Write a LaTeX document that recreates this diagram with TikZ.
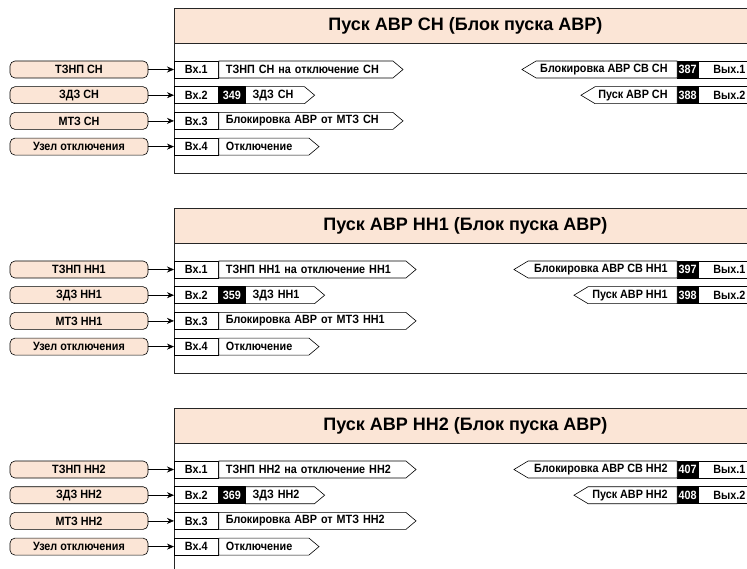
\documentclass[tikz,border=0pt]{standalone}
\usepackage{fontspec}
\setmainfont{Liberation Sans}[FakeStretch=0.9]
\newfontfamily\headfont{Liberation Sans}[FakeStretch=1.0]
\usetikzlibrary{arrows.meta,shapes.symbols}

\definecolor{peach}{HTML}{FBE5D6}
% output text, right aligned in a box of given width
\newcommand\outlbl[2]{\makebox[#1][r]{#2\kern7pt}}

\begin{document}
\begin{tikzpicture}[x=1pt,y=-1pt,
  every node/.style={font=\bfseries\fontsize{12}{13}\selectfont,inner sep=0pt},
  link/.style={draw=black,line width=.7pt,-{Stealth[length=7pt,width=6pt]}},
  block/.style={draw=black!85,line width=.9pt,fill=white},
  band/.style={draw=black!85,line width=.9pt,fill=peach},
  heading/.style={font=\headfont\bfseries\fontsize{18}{20}\selectfont},
  source/.style={draw=black,line width=.6pt,fill=peach,rounded corners=5pt,
    minimum width=138,minimum height=17},
  port/.style={draw=black,line width=.6pt,fill=white,minimum width=44,
    minimum height=17,anchor=west},
  num/.style={draw=black,line width=.6pt,fill=black,text=white,minimum width=26,
    minimum height=17,anchor=west},
  onum/.style={num,minimum width=20},
  sigin/.style={draw=black,line width=.6pt,fill=white,shape=signal,signal to=east,
    signal pointer angle=80,minimum height=17,anchor=west,text width=#1,
    align=left,inner xsep=7pt},
  sigout/.style={draw=black,line width=.6pt,fill=white,shape=signal,signal to=west,
    signal pointer angle=62,minimum height=17,anchor=east,inner xsep=2.5pt}]

\clip (0,0) rectangle (747,569);

% ---- block A
\node[block,minimum width=582,minimum height=165,anchor=north west] (blockA) at (174,8) {};
\node[band,minimum width=582,minimum height=35,anchor=north west] (bandA) at (174,8) {};
\node[heading] (titleA) at (bandA.center) {Пуск АВР СН (Блок пуска АВР)};

\node[source] (srcA1) at (79,69.5) {ТЗНП СН};
\node[source] (srcA2) at (79,95.2) {ЗДЗ СН};
\node[source] (srcA3) at (79,120.9) {МТЗ СН};
\node[source] (srcA4) at (79,146.6) {Узел отключения};

\node[port] (portA1) at (174,69.5) {Вх.1};
\node[port] (portA2) at (174,95.2) {Вх.2};
\node[port] (portA3) at (174,120.9) {Вх.3};
\node[port] (portA4) at (174,146.6) {Вх.4};

\node[sigin=160pt] (sigA1) at (portA1.east) {ТЗНП СН на отключение СН};
\node[num] (numA2) at (portA2.east) {349};
\node[sigin=45pt] (sigA2) at (numA2.east) {ЗДЗ СН};
\node[sigin=160pt] (sigA3) at (portA3.east) {Блокировка АВР от МТЗ СН};
\node[sigin=76pt] (sigA4) at (portA4.east) {Отключение};

\node[port,minimum width=62] (oportA1) at (698,69.5) {Вых.1};
\node[port,minimum width=62] (oportA2) at (698,95.2) {Вых.2};
\node[onum,anchor=east] (onumA1) at (oportA1.west) {387};
\node[onum,anchor=east] (onumA2) at (oportA2.west) {388};
\node[sigout] (outA1) at (onumA1.west) {\outlbl{136pt}{Блокировка АВР СВ СН}};
\node[sigout] (outA2) at (onumA2.west) {\outlbl{77pt}{Пуск АВР СН}};

\draw[link] (srcA1) -- (portA1);
\draw[link] (srcA2) -- (portA2);
\draw[link] (srcA3) -- (portA3);
\draw[link] (srcA4) -- (portA4);

% ---- block B
\node[block,minimum width=582,minimum height=165,anchor=north west] (blockB) at (174,208) {};
\node[band,minimum width=582,minimum height=35,anchor=north west] (bandB) at (174,208) {};
\node[heading] (titleB) at (bandB.center) {Пуск АВР НН1 (Блок пуска АВР)};

\node[source] (srcB1) at (79,269.5) {ТЗНП НН1};
\node[source] (srcB2) at (79,295.2) {ЗДЗ НН1};
\node[source] (srcB3) at (79,320.9) {МТЗ НН1};
\node[source] (srcB4) at (79,346.6) {Узел отключения};

\node[port] (portB1) at (174,269.5) {Вх.1};
\node[port] (portB2) at (174,295.2) {Вх.2};
\node[port] (portB3) at (174,320.9) {Вх.3};
\node[port] (portB4) at (174,346.6) {Вх.4};

\node[sigin=173pt] (sigB1) at (portB1.east) {ТЗНП НН1 на отключение НН1};
\node[num] (numB2) at (portB2.east) {359};
\node[sigin=55pt] (sigB2) at (numB2.east) {ЗДЗ НН1};
\node[sigin=173pt] (sigB3) at (portB3.east) {Блокировка АВР от МТЗ НН1};
\node[sigin=76pt] (sigB4) at (portB4.east) {Отключение};

\node[port,minimum width=62] (oportB1) at (698,269.5) {Вых.1};
\node[port,minimum width=62] (oportB2) at (698,295.2) {Вых.2};
\node[onum,anchor=east] (onumB1) at (oportB1.west) {397};
\node[onum,anchor=east] (onumB2) at (oportB2.west) {398};
\node[sigout] (outB1) at (onumB1.west) {\outlbl{144pt}{Блокировка АВР СВ НН1}};
\node[sigout] (outB2) at (onumB2.west) {\outlbl{84pt}{Пуск АВР НН1}};

\draw[link] (srcB1) -- (portB1);
\draw[link] (srcB2) -- (portB2);
\draw[link] (srcB3) -- (portB3);
\draw[link] (srcB4) -- (portB4);

% ---- block C
\node[block,minimum width=582,minimum height=165,anchor=north west] (blockC) at (174,408) {};
\node[band,minimum width=582,minimum height=35,anchor=north west] (bandC) at (174,408) {};
\node[heading] (titleC) at (bandC.center) {Пуск АВР НН2 (Блок пуска АВР)};

\node[source] (srcC1) at (79,469.5) {ТЗНП НН2};
\node[source] (srcC2) at (79,495.2) {ЗДЗ НН2};
\node[source] (srcC3) at (79,520.9) {МТЗ НН2};
\node[source] (srcC4) at (79,546.6) {Узел отключения};

\node[port] (portC1) at (174,469.5) {Вх.1};
\node[port] (portC2) at (174,495.2) {Вх.2};
\node[port] (portC3) at (174,520.9) {Вх.3};
\node[port] (portC4) at (174,546.6) {Вх.4};

\node[sigin=173pt] (sigC1) at (portC1.east) {ТЗНП НН2 на отключение НН2};
\node[num] (numC2) at (portC2.east) {369};
\node[sigin=55pt] (sigC2) at (numC2.east) {ЗДЗ НН2};
\node[sigin=173pt] (sigC3) at (portC3.east) {Блокировка АВР от МТЗ НН2};
\node[sigin=76pt] (sigC4) at (portC4.east) {Отключение};

\node[port,minimum width=62] (oportC1) at (698,469.5) {Вых.1};
\node[port,minimum width=62] (oportC2) at (698,495.2) {Вых.2};
\node[onum,anchor=east] (onumC1) at (oportC1.west) {407};
\node[onum,anchor=east] (onumC2) at (oportC2.west) {408};
\node[sigout] (outC1) at (onumC1.west) {\outlbl{144pt}{Блокировка АВР СВ НН2}};
\node[sigout] (outC2) at (onumC2.west) {\outlbl{84pt}{Пуск АВР НН2}};

\draw[link] (srcC1) -- (portC1);
\draw[link] (srcC2) -- (portC2);
\draw[link] (srcC3) -- (portC3);
\draw[link] (srcC4) -- (portC4);
\end{tikzpicture}
\end{document}
